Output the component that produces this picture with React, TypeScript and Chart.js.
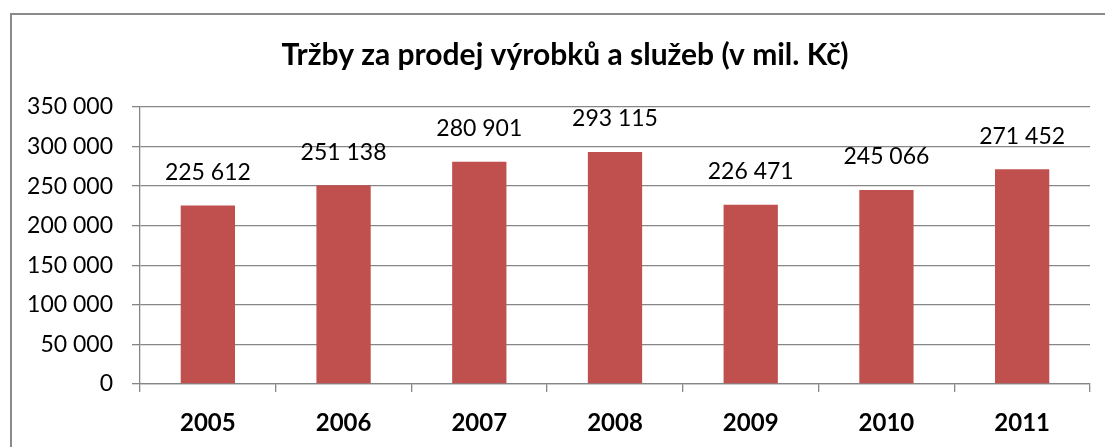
import React, { useEffect, useRef } from "react";
import { Chart, registerables } from "chart.js";

Chart.register(...registerables);

const categories = ["2005", "2006", "2007", "2008", "2009", "2010", "2011"];
const salesValues = [225612, 251138, 280901, 293115, 226471, 245066, 271452];
const yTickValues = [0, 50000, 100000, 150000, 200000, 250000, 300000, 350000];
const titleText = "Tržby za prodej výrobků a služeb (v mil. Kč)";

const fmt = (v: number) => String(v).replace(/\B(?=(\d{3})+(?!\d))/g, " ");

const FONT = "Lato, 'Open Sans', sans-serif";
const GRID = "#868686";

const framePlugin = {
  id: "frame",
  beforeDraw(chart: any) {
    const ctx = chart.ctx;
    ctx.save();
    ctx.fillStyle = "#ffffff";
    ctx.fillRect(0, 0, chart.width, chart.height);
    ctx.strokeStyle = "#8a8a8a";
    ctx.lineWidth = 2;
    ctx.beginPath();
    ctx.moveTo(11, chart.height + 5);
    ctx.lineTo(11, 14);
    ctx.lineTo(chart.width + 5, 14);
    ctx.stroke();
    // chart title
    ctx.font = `bold 30px ${FONT}`;
    ctx.fillStyle = "#000000";
    ctx.textAlign = "center";
    ctx.textBaseline = "middle";
    ctx.fillText(titleText, 565, 55);
    ctx.restore();
  },
};

const labelPlugin = {
  id: "barLabels",
  afterDatasetsDraw(chart: any) {
    const ctx = chart.ctx;
    const meta = chart.getDatasetMeta(0);
    const data = chart.data.datasets[0].data as number[];
    ctx.save();
    ctx.font = `23px ${FONT}`;
    ctx.fillStyle = "#000000";
    ctx.textAlign = "center";
    ctx.textBaseline = "middle";
    meta.data.forEach((bar: any, i: number) => {
      ctx.fillText(fmt(data[i]), bar.x, bar.y - 33);
    });
    ctx.restore();
  },
};

export default function App() {
  const ref = useRef<HTMLCanvasElement | null>(null);

  useEffect(() => {
    if (!ref.current) return;
    const chart = new Chart(ref.current, {
      type: "bar",
      data: {
        labels: categories,
        datasets: [
          {
            data: salesValues,
            backgroundColor: "#C0504D",
            borderWidth: 0,
            barPercentage: 0.4,
            categoryPercentage: 1,
          },
        ],
      },
      options: {
        animation: false,
        responsive: false,
        maintainAspectRatio: false,
        layout: { padding: { left: 0, right: 15, top: 107, bottom: 0 } },
        plugins: {
          legend: { display: false },
          tooltip: { enabled: false },
          title: { display: false },
        },
        scales: {
          x: {
            grid: {
              offset: true,
              drawOnChartArea: false,
              drawTicks: true,
              tickLength: 8,
              color: GRID,
              lineWidth: 1.3,
            },
            border: { display: true, color: GRID, width: 1.3 },
            ticks: {
              color: "#000000",
              font: { family: FONT, size: 24, weight: "bold" },
              padding: 17,
              maxRotation: 0,
            },
            afterFit: (axis: any) => {
              axis.height = 63;
            },
          },
          y: {
            min: 0,
            max: 350000,
            afterBuildTicks: (axis: any) => {
              axis.ticks = yTickValues.map((v) => ({ value: v }));
            },
            grid: {
              drawOnChartArea: true,
              drawTicks: true,
              tickLength: 8,
              color: GRID,
              lineWidth: 1.3,
            },
            border: { display: true, color: GRID, width: 1.3 },
            ticks: {
              color: "#000000",
              font: { family: FONT, size: 23 },
              padding: 19,
              callback: (v: any) => fmt(Number(v)),
            },
            afterFit: (axis: any) => {
              axis.width = 140;
            },
          },
        },
      },
      plugins: [framePlugin, labelPlugin],
    });
    return () => chart.destroy();
  }, []);

  return (
    <div style={{ position: "fixed", left: 0, top: 0, width: 1105, height: 447, background: "#fff" }}>
      <canvas ref={ref} width={1105} height={447} style={{ display: "block" }} />
    </div>
  );
}
